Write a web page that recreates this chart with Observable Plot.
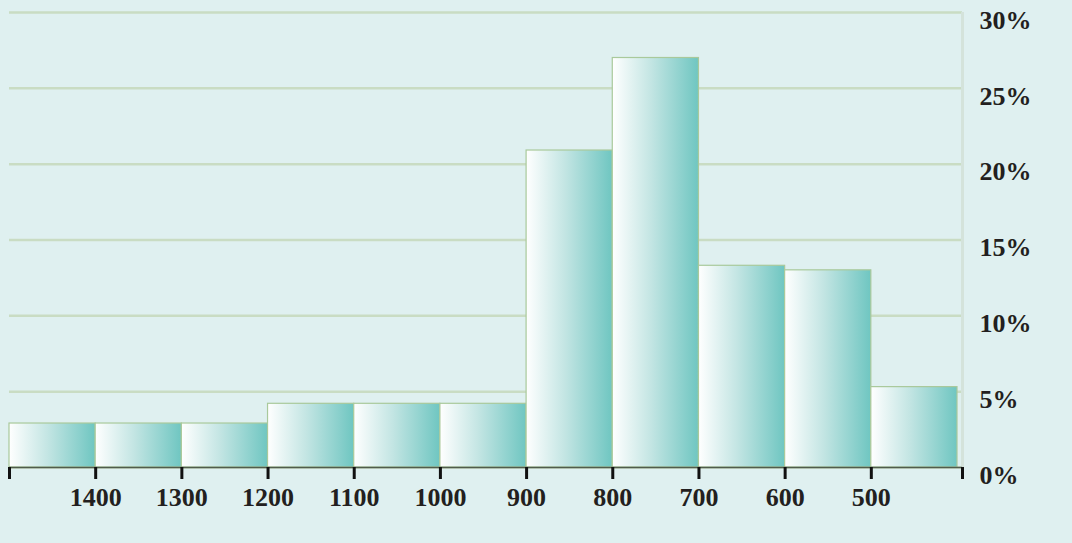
<!DOCTYPE html>
<html>
<head>
<meta charset="utf-8">
<script src="https://cdn.jsdelivr.net/npm/d3@7"></script>
<script src="https://cdn.jsdelivr.net/npm/@observablehq/plot@0.6"></script>
<style>
  html, body { margin: 0; padding: 0; background: #dff0f0; }
  #chart svg { display: block; }
</style>
</head>
<body>
<div id="chart"></div>
<script>
// Bin edges (upper / lower) and share of observations in each bin (%)
const binStarts = [1500, 1400, 1300, 1200, 1100, 1000, 900, 800, 700, 600, 500];
const binEnds   = [1400, 1300, 1200, 1100, 1000,  900, 800, 700, 600, 500, 400];
const shares    = [2.9, 2.9, 2.9, 4.2, 4.2, 4.2, 20.9, 27.0, 13.3, 13.0, 5.3];

const xTickValues = [1500, 1400, 1300, 1200, 1100, 1000, 900, 800, 700, 600, 500];
const xTickLabels = ["", "1400", "1300", "1200", "1100", "1000", "900", "800", "700", "600", "500"];
const yTickValues = [0, 5, 10, 15, 20, 25, 30];
const axisEnd = 394.2;

const data = binStarts.map((s, i) => ({x1: s, x2: binEnds[i], y: shares[i]}));
const FONT = "Liberation Serif";

const chart = Plot.plot({
  width: 1072,
  height: 543,
  marginLeft: 9,
  marginRight: 110,
  marginTop: 12,
  marginBottom: 76,
  x: {domain: [1500, axisEnd], label: null},
  y: {domain: [0, 30], label: null},
  style: {
    background: "#dff0f0",
    fontFamily: FONT,
    fontWeight: "bold",
    fontSize: "26px",
    color: "#231f20",
    overflow: "visible"
  },
  marks: [
    Plot.gridY(yTickValues, {stroke: "#c9dcc3", strokeWidth: 2.5, strokeOpacity: 1}),
    Plot.ruleX([axisEnd], {stroke: "#d4e3db", strokeWidth: 3}),
    Plot.rectY(data, {x1: "x1", x2: "x2", y: "y", fill: "url(#barGrad)", stroke: "#a9c99b", strokeWidth: 1.2}),
    Plot.ruleY([0], {stroke: "#505c4c", strokeWidth: 1.5}),
    Plot.axisX({
      ticks: [...xTickValues, axisEnd],
      tickSize: 12,
      tickPadding: 8,
      strokeWidth: 3,
      stroke: "#111",
      label: null,
      fontSize: 26,
      fontFamily: FONT,
      fontWeight: "bold",
      tickFormat: d => { const i = xTickValues.indexOf(d); return i >= 0 ? xTickLabels[i] : ""; },
      fill: "#231f20"
    }),
    Plot.axisY({
      anchor: "right",
      ticks: yTickValues,
      tickSize: 0,
      tickPadding: 17,
      dy: 8,
      label: null,
      fontSize: 26,
      fontFamily: FONT,
      fontWeight: "bold",
      tickFormat: d => d + "%",
      fill: "#231f20"
    })
  ]
});

const ns = "http://www.w3.org/2000/svg";
const defs = document.createElementNS(ns, "defs");
defs.innerHTML = `<linearGradient id="barGrad" x1="0" y1="0" x2="1" y2="0">
  <stop offset="0" stop-color="#ffffff"/>
  <stop offset="0.45" stop-color="#c3e5e3"/>
  <stop offset="1" stop-color="#6fc6c1"/>
</linearGradient>`;
chart.insertBefore(defs, chart.firstChild);
document.getElementById("chart").appendChild(chart);
</script>
</body>
</html>
